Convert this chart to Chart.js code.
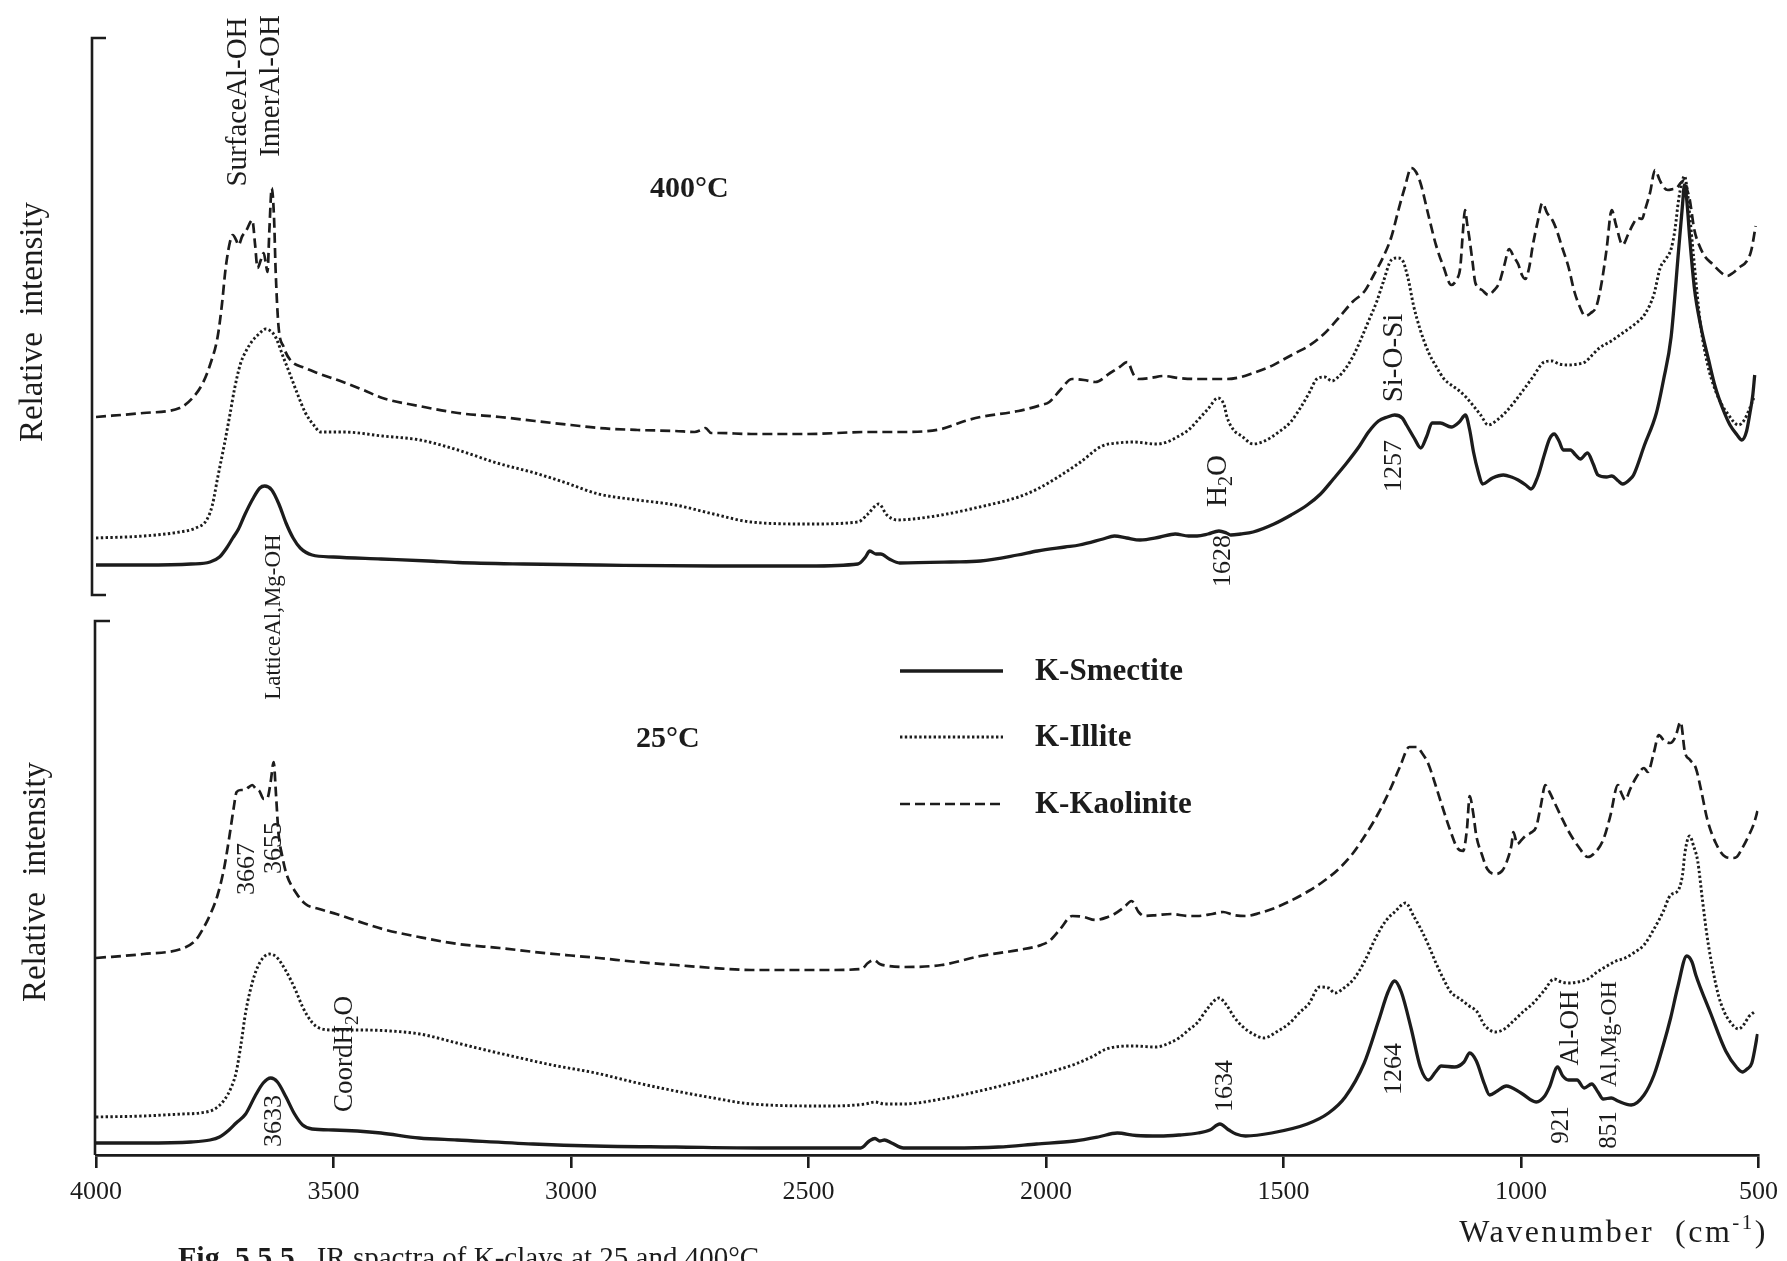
<!DOCTYPE html>
<html>
<head>
<meta charset="utf-8">
<script src="https://cdn.jsdelivr.net/npm/chart.js@4.4.1/dist/chart.umd.min.js"></script>
<style>
  html, body { margin: 0; padding: 0; background: #ffffff; }
  canvas { display: block; }
</style>
</head>
<body>
<canvas id="c" width="1787" height="1261"></canvas>
<script>
// IR spectra of K-clays (relative intensity, arbitrary units) read as [wavenumber, intensity].
// Each panel has its own intensity axis; values are relative to the panel baseline.

// ---- 25 °C ----
const smectite25 = [[4000,2.4],[3900,2.4],[3800,2.6],[3760,3.0],[3740,3.6],[3720,5.0],[3705,6.4],[3685,8.2],[3665,11.8],[3648,14.4],[3632,15.4],[3618,14.6],[3600,11.6],[3582,8.2],[3565,6.0],[3545,5.2],[3500,5.0],[3450,4.8],[3400,4.4],[3320,3.4],[3240,3.0],[3080,2.2],[2950,1.8],[2780,1.6],[2600,1.4],[2390,1.4],[2372,2.8],[2360,3.3],[2350,2.8],[2340,3.0],[2325,2.4],[2300,1.4],[2200,1.4],[2100,1.6],[2020,2.2],[1940,2.8],[1890,3.6],[1850,4.4],[1810,3.9],[1760,3.8],[1720,4.0],[1680,4.4],[1655,5.0],[1634,6.2],[1615,5.0],[1600,4.2],[1580,3.8],[1525,4.4],[1450,6.2],[1405,8.4],[1370,11.6],[1330,18.4],[1300,26.8],[1280,32.6],[1266,34.8],[1252,32.6],[1231,25.2],[1212,17.6],[1195,15.0],[1180,16.6],[1168,17.8],[1140,17.6],[1120,18.6],[1108,20.4],[1094,18.8],[1077,14.2],[1066,12.0],[1050,12.8],[1031,13.8],[1000,12.4],[968,10.6],[950,11.8],[940,13.6],[923,17.6],[912,15.8],[900,15.0],[882,15.0],[867,13.4],[851,14.2],[838,12.6],[827,11.2],[810,11.4],[796,10.8],[768,10.0],[741,12.0],[720,16.0],[701,21.8],[685,27.4],[670,33.6],[651,39.8],[640,38.6],[632,36.0],[601,28.4],[569,20.8],[545,17.4],[534,16.6],[524,17.2],[514,18.4],[502,24.2]];

const illite25 = [[4000,7.6],[3900,7.8],[3820,8.2],[3782,8.4],[3750,9.2],[3730,11.0],[3715,13.6],[3705,16.5],[3695,22.0],[3685,28.5],[3670,34.8],[3655,38.5],[3635,40.2],[3620,39.6],[3600,36.8],[3580,33.0],[3565,29.6],[3545,26.5],[3530,25.4],[3500,25.0],[3440,25.0],[3380,24.8],[3318,24.2],[3240,22.4],[3180,21.0],[3116,19.6],[3040,18.0],[2948,16.4],[2860,14.4],[2780,12.8],[2700,11.4],[2620,10.2],[2460,9.8],[2380,10.2],[2360,10.6],[2340,10.2],[2300,10.2],[2220,11.2],[2140,12.8],[2080,14.2],[2018,15.8],[1970,17.2],[1938,18.2],[1900,19.8],[1873,21.2],[1816,21.8],[1768,21.6],[1740,22.4],[1720,23.4],[1700,25.0],[1682,26.4],[1659,29.4],[1636,31.4],[1620,30.0],[1604,27.6],[1585,25.6],[1564,24.2],[1541,23.4],[1515,24.6],[1487,26.4],[1465,28.6],[1447,30.2],[1424,33.6],[1405,33.4],[1392,32.4],[1370,33.6],[1352,35.2],[1330,38.6],[1305,43.6],[1285,46.8],[1266,48.6],[1243,50.4],[1225,47.6],[1212,45.4],[1195,42.0],[1180,38.6],[1160,34.6],[1148,32.6],[1128,31.2],[1109,29.8],[1092,28.6],[1077,26.0],[1054,24.6],[1035,25.2],[1016,26.8],[996,28.6],[976,30.2],[952,32.8],[930,35.2],[915,34.6],[899,34.4],[880,34.6],[859,35.2],[840,36.6],[819,37.8],[800,38.8],[781,39.4],[760,40.6],[741,42.0],[720,45.2],[701,48.6],[685,52.0],[670,52.8],[660,56.0],[655,60.4],[645,63.8],[636,61.6],[628,58.8],[618,51.0],[608,43.6],[596,37.0],[584,31.8],[572,28.6],[561,26.8],[542,25.2],[530,26.2],[521,27.6],[506,28.8]];

const kaolinite25 = [[4000,39.4],[3900,40.2],[3815,41.4],[3790,43.0],[3775,45.2],[3760,48.0],[3744,52.0],[3730,57.5],[3719,63.8],[3710,69.5],[3704,72.6],[3695,73.0],[3687,73.0],[3678,73.6],[3671,74.0],[3663,73.2],[3656,72.8],[3647,71.2],[3639,71.4],[3632,74.8],[3626,78.6],[3621,72.0],[3616,64.6],[3608,59.8],[3599,56.2],[3580,52.6],[3559,50.2],[3530,49.2],[3494,48.2],[3450,46.8],[3397,45.2],[3320,43.6],[3238,42.2],[3150,41.4],[3076,40.6],[3000,39.9],[2942,39.4],[2860,38.6],[2780,38.0],[2700,37.4],[2621,37.0],[2459,37.0],[2388,37.2],[2375,38.4],[2362,39.0],[2350,38.2],[2330,37.8],[2299,37.6],[2220,38.0],[2138,39.8],[2058,41.0],[2010,42.0],[1993,42.8],[1970,45.2],[1945,47.8],[1920,47.6],[1896,47.0],[1870,47.6],[1856,48.2],[1835,49.6],[1820,50.8],[1805,48.6],[1793,47.8],[1765,48.0],[1737,48.2],[1700,47.8],[1682,47.8],[1650,48.2],[1627,48.6],[1605,48.0],[1579,47.8],[1550,48.4],[1524,49.2],[1490,50.6],[1447,52.8],[1415,54.8],[1384,57.2],[1355,60.2],[1329,63.8],[1300,68.4],[1275,73.2],[1255,77.6],[1235,81.6],[1220,81.6],[1207,80.2],[1195,78.2],[1180,74.0],[1166,69.8],[1150,65.2],[1134,61.4],[1122,60.8],[1114,65.0],[1108,71.8],[1101,68.6],[1094,63.8],[1082,60.0],[1071,57.2],[1054,56.2],[1040,56.8],[1031,58.4],[1020,62.0],[1016,64.6],[1008,62.2],[999,63.0],[991,63.8],[980,64.4],[968,65.6],[958,70.0],[949,74.0],[940,72.6],[930,70.6],[915,67.6],[899,64.6],[880,61.8],[859,59.6],[843,60.6],[827,63.0],[812,67.8],[796,74.0],[788,72.2],[781,71.0],[770,73.2],[757,75.6],[741,77.4],[733,76.6],[720,80.6],[710,84.0],[698,82.8],[686,82.4],[675,83.6],[664,86.6],[655,80.6],[644,79.0],[632,77.4],[620,72.6],[608,67.2],[590,62.4],[569,59.6],[555,59.4],[546,59.6],[534,61.4],[521,63.8],[510,66.2],[502,68.8]];

// ---- 400 °C ----
const smectite400 = [[4000,3.0],[3900,3.0],[3800,3.2],[3760,3.6],[3740,4.6],[3725,6.4],[3712,8.4],[3700,10.2],[3687,13.0],[3670,16.2],[3655,18.4],[3645,18.8],[3630,18.0],[3615,15.2],[3600,11.4],[3585,8.4],[3570,6.4],[3545,5.0],[3500,4.6],[3400,4.2],[3300,3.8],[3238,3.5],[3100,3.2],[2942,3.0],[2700,2.8],[2500,2.8],[2396,3.2],[2380,4.6],[2371,5.8],[2358,5.2],[2348,5.2],[2330,4.2],[2308,3.4],[2200,3.6],[2138,3.8],[2060,5.0],[2018,5.8],[1960,6.6],[1930,7.0],[1880,8.2],[1856,8.8],[1830,8.4],[1802,8.0],[1760,8.6],[1728,9.2],[1700,8.8],[1682,8.8],[1659,9.2],[1636,9.8],[1620,9.4],[1611,9.0],[1590,9.2],[1564,9.6],[1520,11.2],[1484,13.0],[1450,15.0],[1422,17.2],[1395,20.2],[1367,23.4],[1340,26.8],[1321,29.6],[1300,31.8],[1281,32.6],[1266,33.0],[1250,32.4],[1241,31.0],[1225,28.4],[1211,26.4],[1199,28.6],[1187,31.4],[1170,31.4],[1147,30.6],[1130,31.6],[1117,33.0],[1108,30.0],[1100,25.6],[1090,21.6],[1081,19.2],[1060,20.4],[1037,21.0],[1020,20.6],[1006,20.0],[990,19.0],[979,18.2],[965,20.6],[951,25.0],[940,28.2],[930,29.2],[920,27.8],[911,26.0],[896,26.0],[885,25.0],[875,24.2],[860,25.4],[848,23.2],[838,21.0],[820,20.6],[809,20.8],[795,19.8],[786,19.2],[770,20.2],[763,21.0],[740,27.0],[715,33.4],[700,40.0],[684,48.6],[668,66.2],[660,75.0],[656,79.0],[651,76.0],[645,68.6],[635,58.4],[622,51.0],[605,44.0],[591,38.6],[575,34.2],[560,31.0],[545,29.0],[535,28.0],[525,29.8],[518,33.4],[512,37.0],[508,41.0]];

const illite400 = [[4000,8.4],[3900,8.8],[3824,9.6],[3790,10.4],[3767,12.0],[3755,15.0],[3744,20.4],[3730,27.0],[3719,32.6],[3708,38.4],[3696,43.2],[3683,46.0],[3671,47.8],[3657,49.2],[3643,50.2],[3630,49.6],[3622,48.6],[3605,44.4],[3591,41.0],[3575,37.0],[3559,33.4],[3540,30.8],[3528,29.6],[3479,29.6],[3397,28.8],[3318,28.0],[3238,26.0],[3156,23.4],[3076,21.4],[3010,19.4],[2942,17.2],[2860,16.0],[2780,15.0],[2700,13.2],[2621,11.6],[2501,11.2],[2396,11.6],[2375,13.2],[2352,15.2],[2335,13.0],[2314,12.0],[2280,12.2],[2220,13.0],[2140,14.6],[2058,16.6],[2018,18.2],[1978,20.4],[1930,23.4],[1882,26.8],[1850,27.4],[1816,27.6],[1768,27.2],[1745,27.6],[1720,28.8],[1700,30.0],[1682,31.8],[1659,34.2],[1638,36.4],[1625,35.0],[1619,32.6],[1605,30.0],[1588,28.8],[1564,27.2],[1540,27.8],[1510,29.6],[1485,31.6],[1462,34.8],[1445,37.6],[1430,40.2],[1413,40.6],[1398,39.8],[1385,40.6],[1367,42.6],[1350,45.4],[1335,48.6],[1320,52.0],[1304,55.6],[1290,59.6],[1273,64.0],[1260,64.4],[1250,64.0],[1238,60.4],[1226,54.8],[1212,50.0],[1195,45.6],[1178,42.6],[1162,40.2],[1147,39.0],[1132,38.0],[1116,36.6],[1100,34.8],[1085,33.0],[1069,31.0],[1050,32.0],[1030,33.8],[1014,35.6],[995,38.0],[975,40.6],[951,43.6],[935,43.8],[920,43.2],[900,43.0],[880,43.2],[865,43.6],[850,45.0],[835,46.4],[810,47.8],[786,49.4],[760,51.2],[739,53.2],[720,57.2],[707,62.4],[695,64.2],[684,66.2],[676,70.0],[668,76.2],[661,79.6],[656,80.8],[650,78.0],[645,73.2],[636,64.0],[622,51.0],[607,43.0],[591,38.0],[578,35.2],[566,33.4],[542,31.0],[530,32.0],[520,34.0],[510,36.4]];

const kaolinite400 = [[4000,32.6],[3900,33.4],[3824,34.4],[3795,36.6],[3775,39.4],[3760,43.0],[3744,48.6],[3735,55.0],[3727,62.4],[3718,67.6],[3712,69.0],[3705,68.0],[3700,67.0],[3692,68.8],[3683,70.0],[3675,71.6],[3671,72.0],[3665,67.0],[3660,62.4],[3653,64.0],[3647,65.4],[3642,63.0],[3639,61.6],[3635,70.0],[3630,78.4],[3625,72.0],[3622,62.4],[3616,51.0],[3605,46.6],[3591,44.0],[3560,42.4],[3534,41.4],[3480,39.6],[3437,38.0],[3397,36.4],[3320,34.8],[3238,33.4],[3150,32.6],[3076,31.8],[3000,31.0],[2942,30.4],[2860,30.0],[2780,29.8],[2740,29.6],[2726,30.0],[2717,30.4],[2705,29.4],[2690,29.4],[2621,29.2],[2500,29.2],[2379,29.6],[2300,29.6],[2220,30.2],[2171,31.8],[2138,32.6],[2058,33.8],[2010,35.0],[1993,35.6],[1970,38.0],[1945,40.2],[1920,40.0],[1896,39.6],[1865,41.4],[1845,42.6],[1829,43.6],[1815,41.0],[1804,40.2],[1780,40.4],[1753,40.8],[1720,40.4],[1682,40.2],[1650,40.2],[1619,40.2],[1590,40.6],[1564,41.4],[1530,42.6],[1502,44.0],[1475,45.4],[1447,46.8],[1415,49.2],[1384,52.4],[1355,55.6],[1329,57.8],[1310,61.0],[1289,64.8],[1273,68.6],[1258,74.0],[1245,78.4],[1231,82.4],[1221,81.6],[1211,79.2],[1195,73.0],[1179,67.0],[1163,62.6],[1147,59.0],[1135,60.2],[1128,62.4],[1122,70.0],[1118,74.0],[1113,71.0],[1109,68.6],[1102,63.6],[1096,59.4],[1082,58.0],[1069,57.0],[1056,58.0],[1046,59.4],[1035,63.0],[1025,66.2],[1015,64.6],[1006,63.2],[998,61.0],[991,60.2],[983,62.4],[975,67.0],[965,71.6],[955,75.4],[945,73.4],[934,72.0],[925,70.0],[915,67.0],[900,62.6],[888,57.8],[876,54.6],[865,52.8],[853,53.4],[841,54.8],[830,59.6],[820,66.0],[809,74.0],[800,71.0],[786,67.0],[775,69.0],[765,71.0],[754,72.4],[745,72.2],[739,74.0],[728,77.6],[718,82.0],[708,80.0],[700,78.6],[691,78.0],[680,78.2],[672,78.4],[664,79.4],[656,80.0],[650,78.0],[645,76.2],[635,70.0],[625,67.0],[612,64.6],[597,63.2],[580,61.6],[566,60.8],[554,61.4],[542,62.4],[523,64.0],[515,66.0],[506,70.8]];

// axis ticks
const wavenumberTicks = [4000, 3500, 3000, 2500, 2000, 1500, 1000, 500];

// band assignments, placed at [wavenumber, intensity] on their panel
const bands400 = [
  { text: 'SurfaceAl-OH', wn: 3700, at: 95.6, size: 29 },
  { text: 'InnerAl-OH', wn: 3630, at: 98.8, size: 29 },
  { text: 'LatticeAl,Mg-OH', wn: 3626, at: -7.4, size: 23 },
  { text: 'H_2O', wn: 1638, at: 19.8, size: 29 },
  { text: '1628', wn: 1628, at: 3.8, size: 26 },
  { text: 'Si-O-Si', wn: 1266, at: 44.4, size: 29 },
  { text: '1257', wn: 1266, at: 22.8, size: 26 }
];
const bands25 = [
  { text: '3667', wn: 3681, at: 57.2, size: 26 },
  { text: '3655', wn: 3624, at: 61.4, size: 26 },
  { text: '3633', wn: 3624, at: 6.8, size: 26 },
  { text: 'CoordH_2O', wn: 3475, at: 20.2, size: 27 },
  { text: '1634', wn: 1623, at: 13.8, size: 26 },
  { text: '1264', wn: 1266, at: 17.2, size: 26 },
  { text: 'Al-OH', wn: 895, at: 25.4, size: 27 },
  { text: '921', wn: 914, at: 6.0, size: 25 },
  { text: 'Al,Mg-OH', wn: 813, at: 24.2, size: 24 },
  { text: '851', wn: 813, at: 5.0, size: 25 }
];

const SERIF = "'Liberation Serif', 'Times New Roman', serif";
const INK = '#1c1c1c';

const lineStyles = {
  'K-Smectite':  { width: 3.3, dash: [] },
  'K-Illite':    { width: 2.9, dash: [2.4, 2.4] },
  'K-Kaolinite': { width: 2.7, dash: [10, 5] }
};

function series(label, pairs, axisId) {
  const st = lineStyles[label];
  return {
    label,
    data: pairs.map(([x, y]) => ({ x, y })),
    yAxisID: axisId,
    borderColor: INK,
    borderWidth: st.width,
    borderDash: st.dash,
    borderCapStyle: 'butt',
    borderJoinStyle: 'round',
    pointRadius: 0,
    showLine: true,
    fill: false,
    tension: 0.3,
    cubicInterpolationMode: 'monotone'
  };
}

function setFont(ctx, size, bold) {
  ctx.font = (bold ? 'bold ' : '') + size + 'px ' + SERIF;
}

// split "H_2O" into runs; "_x" marks a one-character subscript
function runs(text) {
  const out = [];
  let buf = '';
  for (let i = 0; i < text.length; i++) {
    if (text[i] === '_') {
      if (buf) out.push({ t: buf });
      buf = '';
      out.push({ t: text[i + 1], sub: true });
      i++;
    } else buf += text[i];
  }
  if (buf) out.push({ t: buf });
  return out;
}

// draw text centred on the origin of the current transform
function drawRuns(ctx, text, size, bold) {
  const rs = runs(text);
  let total = 0;
  rs.forEach(r => {
    setFont(ctx, r.sub ? Math.round(size * 0.7) : size, bold);
    r.w = ctx.measureText(r.t).width;
    total += r.w;
  });
  let x = -total / 2;
  ctx.textAlign = 'left';
  ctx.textBaseline = 'middle';
  rs.forEach(r => {
    setFont(ctx, r.sub ? Math.round(size * 0.7) : size, bold);
    ctx.fillText(r.t, x, r.sub ? size * 0.3 : 0);
    x += r.w;
  });
}

function drawVertical(ctx, text, cx, cy, size, bold) {
  ctx.save();
  ctx.translate(cx, cy);
  ctx.rotate(-Math.PI / 2);
  drawRuns(ctx, text, size, bold);
  ctx.restore();
}

const decorations = {
  id: 'decorations',
  afterDraw(chart) {
    const ctx = chart.ctx;
    const area = chart.chartArea;
    const xs = chart.scales.x;
    const yLo = chart.scales.yLo;
    const yHi = chart.scales.yHi;
    ctx.save();
    ctx.fillStyle = INK;
    ctx.strokeStyle = INK;

    // panel brackets on the left edge
    ctx.lineWidth = 2.6;
    ctx.lineCap = 'butt';
    const hiTop = yHi.getPixelForValue(yHi.max);
    const hiBot = yHi.getPixelForValue(0) + 15;
    const xb = area.left - 4;
    ctx.beginPath();
    ctx.moveTo(xb + 14, hiTop); ctx.lineTo(xb, hiTop);
    ctx.lineTo(xb, hiBot); ctx.lineTo(xb + 14, hiBot);
    ctx.stroke();
    const loTop = yLo.getPixelForValue(106.8);
    ctx.beginPath();
    ctx.moveTo(area.left + 14, loTop); ctx.lineTo(area.left - 1, loTop);
    ctx.lineTo(area.left - 1, area.bottom);
    ctx.stroke();

    // band labels
    bands400.forEach(b => drawVertical(ctx, b.text, xs.getPixelForValue(b.wn), yHi.getPixelForValue(b.at), b.size, false));
    bands25.forEach(b => drawVertical(ctx, b.text, xs.getPixelForValue(b.wn), yLo.getPixelForValue(b.at), b.size, false));

    // temperature headings
    ctx.textAlign = 'left';
    ctx.textBaseline = 'middle';
    setFont(ctx, 30, true);
    ctx.fillText('400°C', 650, 189);
    ctx.fillText('25°C', 636, 739);

    // legend
    const legendRows = [['K-Smectite', 671], ['K-Illite', 737], ['K-Kaolinite', 804]];
    legendRows.forEach(([name, y]) => {
      const st = lineStyles[name];
      ctx.lineWidth = st.width;
      ctx.setLineDash(st.dash);
      ctx.beginPath();
      ctx.moveTo(900, y); ctx.lineTo(1003, y);
      ctx.stroke();
      ctx.setLineDash([]);
      setFont(ctx, 31, true);
      ctx.textAlign = 'left';
      ctx.textBaseline = 'middle';
      ctx.fillText(name, 1035, y + 1);
    });

    // y titles
    drawVertical(ctx, 'Relative  intensity', 33, 322, 33, false);
    drawVertical(ctx, 'Relative  intensity', 36, 882, 33, false);

    // x title with superscript
    ctx.textBaseline = 'alphabetic';
    ctx.textAlign = 'left';
    try { ctx.letterSpacing = '2.5px'; } catch (e) {}
    const main = 'Wavenumber  (cm';
    const sup = '-1';
    const close = ')';
    setFont(ctx, 32, false);
    const wMain = ctx.measureText(main).width;
    const wClose = ctx.measureText(close).width;
    setFont(ctx, 21, false);
    const wSup = ctx.measureText(sup).width;
    const x0 = 1768 - (wMain + wSup + wClose);
    const base = 1242;
    setFont(ctx, 32, false);
    ctx.fillText(main, x0, base);
    setFont(ctx, 21, false);
    ctx.fillText(sup, x0 + wMain, base - 13);
    setFont(ctx, 32, false);
    ctx.fillText(close, x0 + wMain + wSup, base);
    try { ctx.letterSpacing = '0px'; } catch (e) {}

    // caption
    setFont(ctx, 30, true);
    const fig = 'Fig. 5.5.5.';
    ctx.fillText(fig, 178, 1267);
    const wf = ctx.measureText(fig).width;
    setFont(ctx, 29, false);
    ctx.fillText('  IR spactra of K-clays at 25 and 400°C', 178 + wf, 1267);

    ctx.restore();
  }
};

new Chart(document.getElementById('c'), {
  type: 'scatter',
  data: {
    datasets: [
      series('K-Smectite', smectite400, 'yHi'),
      series('K-Illite', illite400, 'yHi'),
      series('K-Kaolinite', kaolinite400, 'yHi'),
      series('K-Smectite', smectite25, 'yLo'),
      series('K-Illite', illite25, 'yLo'),
      series('K-Kaolinite', kaolinite25, 'yLo')
    ]
  },
  options: {
    responsive: false,
    devicePixelRatio: 1,
    animation: false,
    events: [],
    layout: { padding: { left: 96, right: 24, top: 38, bottom: 0 } },
    plugins: { legend: { display: false }, tooltip: { enabled: false }, title: { display: false } },
    scales: {
      x: {
        type: 'linear',
        position: 'bottom',
        reverse: true,
        min: 500,
        max: 4000,
        afterFit(scale) { scale.height = 106; },
        afterBuildTicks(scale) { scale.ticks = wavenumberTicks.map(v => ({ value: v })); },
        ticks: {
          autoSkip: false,
          maxRotation: 0,
          padding: 9,
          color: INK,
          font: { family: SERIF, size: 26 },
          callback: v => String(v)
        },
        grid: {
          display: true,
          drawOnChartArea: false,
          drawTicks: true,
          tickLength: 13,
          tickWidth: 2.6,
          tickColor: INK,
          color: INK,
          lineWidth: 2.6
        },
        border: { display: true, color: INK, width: 2.8 }
      },
      yLo: { type: 'linear', display: false, min: 0, max: 223.4 },
      yHi: { type: 'linear', display: false, min: -115, max: 108.4 }
    }
  },
  plugins: [decorations]
});
</script>
</body>
</html>
